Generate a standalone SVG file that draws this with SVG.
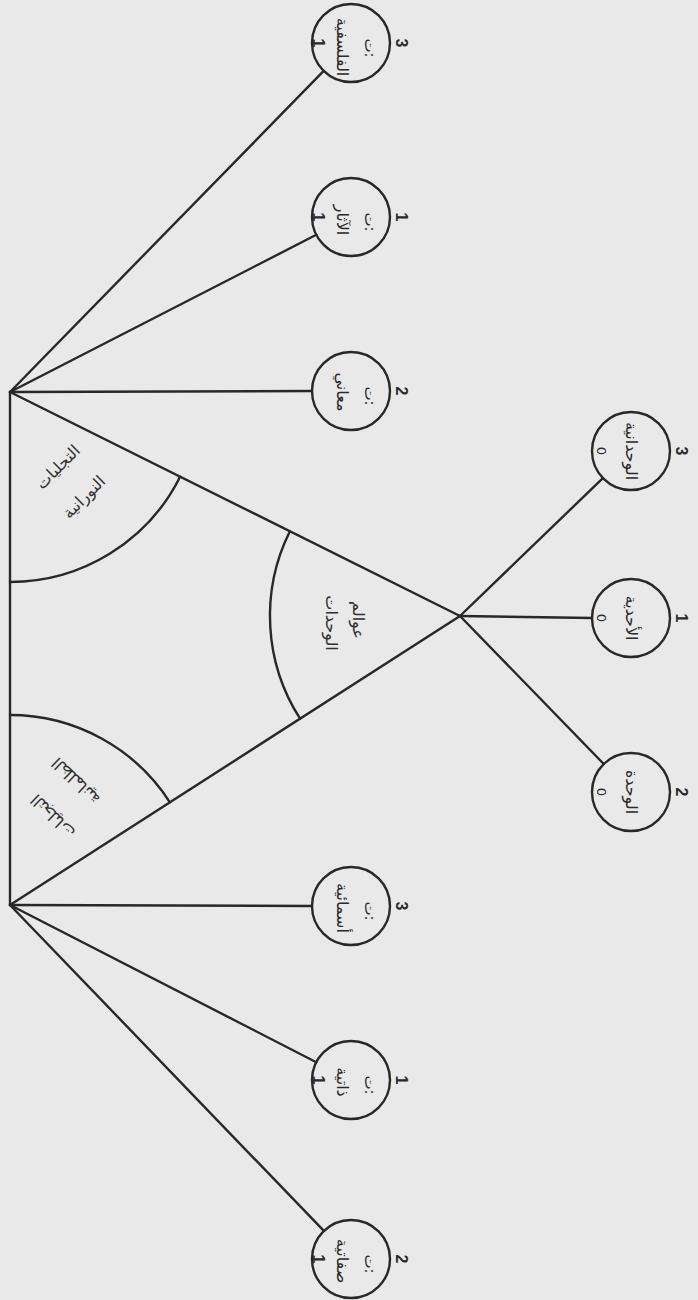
<svg xmlns="http://www.w3.org/2000/svg" width="698" height="1300" viewBox="0 0 698 1300">
<style>
.ln{stroke:#282828;stroke-width:2.4;fill:none;stroke-linecap:round}
.nd{stroke:#282828;stroke-width:2.4;fill:none}
.w{font-family:"DejaVu Sans",sans-serif;font-size:16px;fill:#2a2a2a;text-anchor:middle;dominant-baseline:central}
.t{font-family:"DejaVu Sans",sans-serif;font-size:15px;fill:#2a2a2a;text-anchor:middle;dominant-baseline:central}
.z{font-family:"DejaVu Sans",sans-serif;font-size:13px;fill:#2a2a2a;text-anchor:middle;dominant-baseline:central}
.n{font-family:"Liberation Sans",sans-serif;font-size:16px;font-weight:bold;fill:#2a2a2a;text-anchor:middle;dominant-baseline:central}
.lb{font-family:"DejaVu Sans",sans-serif;font-size:16px;fill:#303030;text-anchor:middle;dominant-baseline:central}
</style>
<rect width="698" height="1300" fill="#e9e9e9"/>
<g id="connectors">
<line class="ln" x1="10" y1="392" x2="10" y2="905"/>
<line class="ln" x1="10" y1="392" x2="323.7" y2="70.9"/>
<line class="ln" x1="10" y1="392" x2="316.3" y2="234.8"/>
<line class="ln" x1="10" y1="392" x2="312" y2="391"/>
<line class="ln" x1="10" y1="392" x2="460" y2="616"/>
<line class="ln" x1="10" y1="905" x2="460" y2="616"/>
<line class="ln" x1="460" y1="616" x2="602.9" y2="478.1"/>
<line class="ln" x1="460" y1="616" x2="592" y2="618"/>
<line class="ln" x1="460" y1="616" x2="603.8" y2="764"/>
<line class="ln" x1="10" y1="905" x2="312" y2="906"/>
<line class="ln" x1="10" y1="905" x2="316.3" y2="1062.2"/>
<line class="ln" x1="10" y1="905" x2="323.9" y2="1230.9"/>
<path class="ln" d="M10,582 A190,190 0 0 0 180.1,476.7"/>
<path class="ln" d="M10,715 A190,190 0 0 1 169.9,802.3"/>
<path class="ln" d="M289.9,531.3 A190,190 0 0 0 300.1,718.7"/>
</g>
<g id="label-nuraniyya">
<text class="lb" transform="translate(58,467) rotate(-45)">التجليات</text>
<text class="lb" transform="translate(84,497) rotate(-45)">النورانية</text>
</g>
<g id="label-wahdat">
<text class="lb" transform="translate(358,620) rotate(90)">عوالم</text>
<text class="lb" transform="translate(331,623) rotate(90)">الوحدات</text>
</g>
<g id="label-zulmaniyya">
<text class="lb" transform="translate(53,816) rotate(-136)">التجليات</text>
<text class="lb" transform="translate(76,781) rotate(-136)">الظلمانية</text>
</g>
<g id="node-falsafiyya">
<circle class="nd" cx="351" cy="43" r="39"/>
<text class="w" transform="translate(342,47) rotate(90)">الفلسفية</text>
<text class="t" transform="translate(370,48) rotate(90)">ت:</text>
<text class="n" transform="translate(401,43) rotate(90)">3</text>
<text class="n" transform="translate(318,43) rotate(90)">1</text>
</g>
<g id="node-athar">
<circle class="nd" cx="351" cy="217" r="39"/>
<text class="w" transform="translate(342,220) rotate(90)">الآثار</text>
<text class="t" transform="translate(370,222) rotate(90)">ت:</text>
<text class="n" transform="translate(401,217) rotate(90)">1</text>
<text class="n" transform="translate(318,217) rotate(90)">1</text>
</g>
<g id="node-maani">
<circle class="nd" cx="351" cy="391" r="39"/>
<text class="w" transform="translate(342,392) rotate(90)">معاني</text>
<text class="t" transform="translate(370,396) rotate(90)">ت:</text>
<text class="n" transform="translate(401,391) rotate(90)">2</text>
</g>
<g id="node-wahdaniyya">
<circle class="nd" cx="631" cy="451" r="39"/>
<text class="w" transform="translate(631,451) rotate(90)">الوحدانية</text>
<text class="n" transform="translate(681,451) rotate(90)">3</text>
<text class="z" transform="translate(601,451) rotate(90)">0</text>
</g>
<g id="node-ahadiyya">
<circle class="nd" cx="631" cy="618" r="39"/>
<text class="w" transform="translate(631,618) rotate(90)">الأحدية</text>
<text class="n" transform="translate(681,618) rotate(90)">1</text>
<text class="z" transform="translate(601,618) rotate(90)">0</text>
</g>
<g id="node-wahda">
<circle class="nd" cx="631" cy="792" r="39"/>
<text class="w" transform="translate(631,792) rotate(90)">الوحدة</text>
<text class="n" transform="translate(681,792) rotate(90)">2</text>
<text class="z" transform="translate(601,792) rotate(90)">0</text>
</g>
<g id="node-asmaiyya">
<circle class="nd" cx="351" cy="906" r="39"/>
<text class="w" transform="translate(342,908) rotate(90)">أسمائية</text>
<text class="t" transform="translate(370,911) rotate(90)">ت:</text>
<text class="n" transform="translate(401,906) rotate(90)">3</text>
</g>
<g id="node-dhatiyya">
<circle class="nd" cx="351" cy="1080" r="39"/>
<text class="w" transform="translate(342,1082) rotate(90)">ذاتية</text>
<text class="t" transform="translate(370,1085) rotate(90)">ت:</text>
<text class="n" transform="translate(401,1080) rotate(90)">1</text>
<text class="n" transform="translate(318,1080) rotate(90)">1</text>
</g>
<g id="node-sifatiyya">
<circle class="nd" cx="351" cy="1259" r="39"/>
<text class="w" transform="translate(342,1261) rotate(90)">صفاتية</text>
<text class="t" transform="translate(370,1264) rotate(90)">ت:</text>
<text class="n" transform="translate(401,1259) rotate(90)">2</text>
<text class="n" transform="translate(318,1259) rotate(90)">1</text>
</g>
</svg>
